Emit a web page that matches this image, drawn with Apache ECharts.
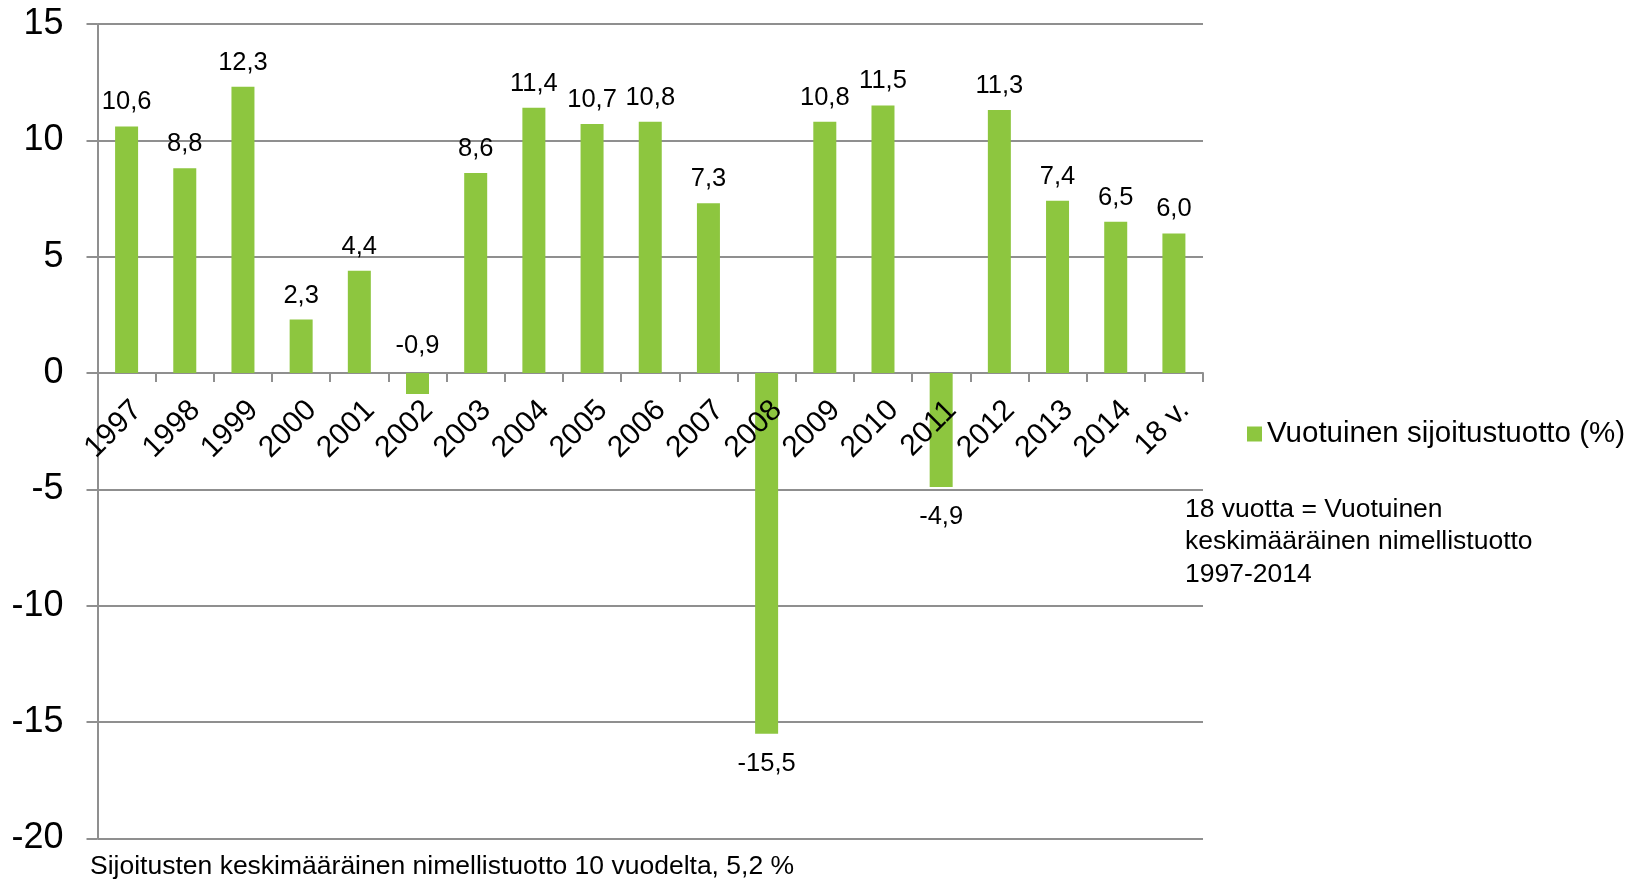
<!DOCTYPE html>
<html>
<head>
<meta charset="utf-8">
<title>Vuotuinen sijoitustuotto</title>
<script src="https://cdn.jsdelivr.net/npm/echarts@6/dist/echarts.min.js"></script>
<style>
  html, body { margin: 0; padding: 0; background: #fff; }
  #chart { width: 1643px; height: 883px; }
</style>
</head>
<body>
<div id="chart"></div>
<script>
// data
const years = ['1997', '1998', '1999', '2000', '2001', '2002', '2003', '2004', '2005',
  '2006', '2007', '2008', '2009', '2010', '2011', '2012', '2013', '2014', '18 v.']
const returns = [10.6, 8.8, 12.3, 2.3, 4.4, -0.9, 8.6, 11.4, 10.7,
  10.8, 7.3, -15.5, 10.8, 11.5, -4.9, 11.3, 7.4, 6.5, 6.0]
const seriesName = 'Vuotuinen sijoitustuotto (%)'
const noteLines = ['18 vuotta = Vuotuinen', 'keskimääräinen nimellistuotto', '1997-2014']
const footNote = 'Sijoitusten keskimääräinen nimellistuotto 10 vuodelta, 5,2 %'

const FONT = '"Liberation Sans", Arial, sans-serif'
const GREEN = '#8dc63f'
const GRAY = '#8f8f8f'

const fmt = (v) => v.toFixed(1).replace('.', ',')

// small negative bars get their label above the zero line, like the original
const barData = returns.map(v => {
  let pos = 'top'
  let dist = 11
  if (v < 0 && v > -2) {
    dist = 14
  } else if (v < 0) {
    pos = 'bottom'
    dist = 17
  }
  return { value: v, label: { position: pos, distance: dist } }
})

const chart = echarts.init(document.getElementById('chart'))

const yearLabel = {
  interval: 0,
  rotate: 45,
  margin: 22,
  verticalAlign: 'top',
  fontSize: 30,
  color: '#000',
  fontFamily: FONT
}

const option = {
  animation: false,
  textStyle: { fontFamily: FONT },
  grid: {
    left: 97.5,
    right: 440,
    top: 24,
    bottom: 44.5,
    containLabel: false,
    outerBoundsMode: 'none'
  },
  legend: {
    data: [seriesName],
    left: 1242,
    top: 414,
    icon: 'rect',
    itemWidth: 15,
    itemHeight: 15,
    textStyle: { fontSize: 29.5, color: '#000', fontFamily: FONT }
  },
  xAxis: [
    {
      // line and ticks, behind the bars
      type: 'category',
      data: years,
      position: 'bottom',
      offset: 0,
      axisLine: { onZero: false, lineStyle: { color: GRAY, width: 2 } },
      axisTick: { show: true, length: 9, interval: 0, lineStyle: { color: GRAY, width: 2 } },
      axisLabel: { show: false },
      splitLine: { show: false }
    },
    {
      // year labels, drawn over the bars
      type: 'category',
      data: years,
      position: 'bottom',
      offset: 0,
      z: 10,
      axisLine: { show: false, onZero: false },
      axisTick: { show: false },
      axisLabel: yearLabel,
      splitLine: { show: false }
    }
  ],
  yAxis: {
    type: 'value',
    min: -20,
    max: 15,
    interval: 5,
    axisLine: { show: true, lineStyle: { color: GRAY, width: 2 } },
    axisTick: { show: true, length: 11, lineStyle: { color: GRAY, width: 2 } },
    axisLabel: { margin: 34, fontSize: 36, color: '#000', fontFamily: FONT },
    splitLine: { show: true, lineStyle: { color: GRAY, width: 2 } }
  },
  series: [
    {
      name: seriesName,
      type: 'bar',
      xAxisIndex: 0,
      data: barData,
      barWidth: 23,
      itemStyle: { color: GREEN },
      label: {
        show: true,
        fontSize: 25.5,
        color: '#000',
        fontFamily: FONT,
        formatter: (p) => fmt(p.value)
      }
    }
  ],
  graphic: [
    {
      type: 'text',
      left: 1185,
      top: 493,
      style: {
        text: noteLines.join('\n'),
        font: '26.5px ' + FONT,
        lineHeight: 32.5,
        fill: '#000'
      }
    },
    {
      type: 'text',
      left: 90,
      top: 853,
      style: {
        text: footNote,
        font: '26.5px ' + FONT,
        fill: '#000'
      }
    }
  ]
}

chart.setOption(option)

// move the category axes (line, ticks and labels) up to the zero line
const zeroY = chart.convertToPixel({ yAxisIndex: 0 }, 0)
const bottomY = chart.convertToPixel({ yAxisIndex: 0 }, -20)
const shift = zeroY - bottomY
chart.setOption({ xAxis: [{ offset: shift }, { offset: shift }] })
</script>
</body>
</html>
